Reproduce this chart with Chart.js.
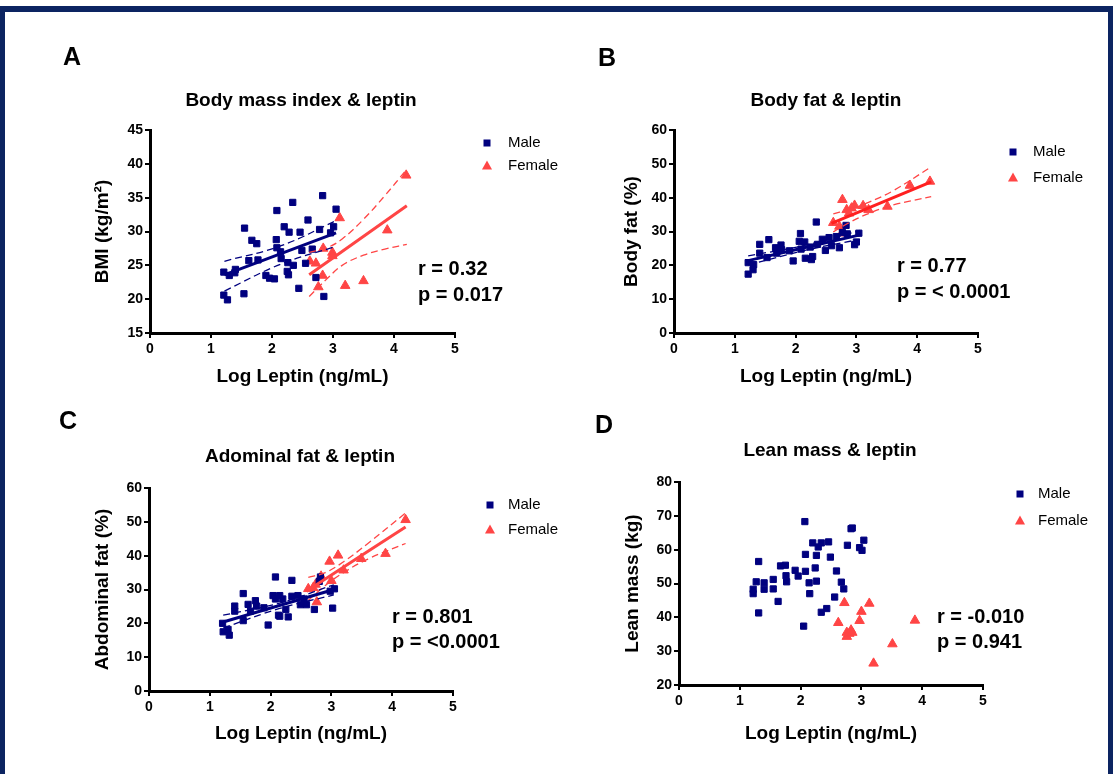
<!DOCTYPE html>
<html lang="en">
<head>
<meta charset="utf-8">
<script src="https://cdn.jsdelivr.net/npm/chart.js"></script>
<style>
  body { margin: 0; background: #fff; width: 1113px; height: 774px; overflow: hidden; }
  #frame {
    position: absolute; left: 0; top: 6px; width: 1113px; height: 768px;
    box-sizing: border-box; border: 6px solid #0c2461; border-bottom: none; border-left-width: 5px; border-right-width: 5px;
  }
  canvas { position: absolute; }
</style>
</head>
<body>
<div id="frame"></div>

<script>
// ---------- data ----------
var xTicks = [0, 1, 2, 3, 4, 5];

// A : body mass index
var bmiMaleX = [1.21, 1.21, 1.27, 1.30, 1.39, 1.40, 1.54, 1.55, 1.62, 1.67, 1.75, 1.77, 1.90, 1.96, 2.04, 2.08, 2.07, 2.08, 2.14, 2.15,
                2.20, 2.26, 2.25, 2.27, 2.28, 2.34, 2.35, 2.44, 2.46, 2.49, 2.55, 2.59, 2.66, 2.72, 2.78, 2.83, 2.85, 2.96, 3.01, 3.05];
var bmiMaleY = [24.0, 20.6, 19.9, 23.5, 23.9, 24.4, 20.8, 30.5, 25.7, 28.7, 28.2, 25.8, 23.5, 23.1, 23.0, 33.1, 28.8, 27.6, 27.0, 26.0,
                30.7, 25.4, 24.1, 23.6, 29.9, 34.3, 25.0, 21.6, 29.9, 27.2, 25.3, 31.7, 27.4, 23.2, 30.3, 35.3, 20.4, 29.8, 30.7, 33.3];
var bmiFemaleX = [2.62, 2.72, 2.76, 2.84, 2.83, 2.99, 2.99, 3.11, 3.20, 3.50, 3.89, 4.20];
var bmiFemaleY = [25.6, 25.3, 21.8, 27.5, 23.5, 26.9, 26.4, 32.0, 22.0, 22.7, 30.2, 38.3];
var bmiMaleFitX = [1.22, 3.05],  bmiMaleFitY = [23.6, 29.8];
var bmiMaleBandX = [1.22, 2.15, 3.05];
var bmiMaleBandHi = [25.6, 27.9, 31.6], bmiMaleBandLo = [21.2, 25.2, 27.8];
var bmiFemaleFitX = [2.61, 4.21], bmiFemaleFitY = [23.6, 33.8];
var bmiFemaleBandX = [2.61, 2.9, 3.15, 3.5, 3.85, 4.21];
var bmiFemaleBandHi = [26.9, 27.6, 28.9, 31.8, 35.3, 39.2], bmiFemaleBandLo = [20.4, 23.0, 25.0, 26.5, 27.4, 28.1];

// B : body fat
var fatMaleX = [1.22, 1.22, 1.30, 1.31, 1.41, 1.41, 1.56, 1.53, 1.67, 1.69, 1.76, 1.77, 1.90, 1.96, 2.06, 2.08, 2.09, 2.15, 2.16, 2.24,
                2.26, 2.28, 2.34, 2.36, 2.44, 2.49, 2.55, 2.59, 2.67, 2.72, 2.77, 2.83, 2.85, 2.97, 3.00, 3.04];
var fatMaleY = [20.8, 17.4, 18.7, 20.2, 26.2, 23.6, 27.6, 22.3, 25.2, 23.6, 26.0, 24.6, 24.3, 21.3, 27.1, 29.4, 24.8, 26.9, 22.1, 25.4,
                21.7, 22.6, 32.8, 26.2, 27.7, 24.4, 28.2, 25.8, 28.5, 25.2, 29.7, 31.8, 29.3, 26.1, 26.9, 29.5];
var fatFemaleX = [2.62, 2.72, 2.76, 2.77, 2.84, 2.88, 2.92, 2.97, 3.11, 3.20, 3.51, 3.88, 4.21];
var fatFemaleY = [32.6, 31.5, 29.5, 39.4, 36.4, 35.4, 36.9, 37.7, 37.6, 36.4, 37.4, 43.6, 44.8];
var fatMaleFitX = [1.22, 3.06],  fatMaleFitY = [21.4, 29.0];
var fatMaleBandX = [1.22, 2.15, 3.06];
var fatMaleBandHi = [22.8, 25.9, 30.3], fatMaleBandLo = [20.1, 24.4, 27.7];
var fatFemaleFitX = [2.59, 4.23], fatFemaleFitY = [32.4, 44.7];
var fatFemaleBandX = [2.62, 2.9, 3.2, 3.6, 4.23];
var fatFemaleBandHi = [35.2, 36.6, 38.6, 42.0, 49.1], fatFemaleBandLo = [29.9, 32.8, 35.3, 37.8, 40.3];

// C : abdominal fat
var abdMaleX = [1.21, 1.22, 1.30, 1.32, 1.41, 1.41, 1.55, 1.55, 1.63, 1.67, 1.75, 1.77, 1.89, 1.96, 2.04, 2.08, 2.08, 2.13, 2.15, 2.15,
                2.20, 2.25, 2.29, 2.35, 2.35, 2.45, 2.49, 2.55, 2.59, 2.72, 2.80, 2.82, 2.98, 3.02, 3.05];
var abdMaleY = [20.0, 17.5, 18.2, 16.5, 25.1, 23.6, 28.8, 20.8, 25.6, 23.6, 26.7, 25.1, 24.6, 19.5, 28.2, 33.7, 27.2, 22.4, 28.2, 22.1,
                27.2, 24.1, 21.9, 32.7, 28.0, 28.2, 25.5, 27.2, 25.5, 24.1, 32.4, 33.7, 29.5, 24.5, 30.2];
var abdFemaleX = [2.62, 2.70, 2.74, 2.76, 2.83, 2.97, 3.00, 3.11, 3.20, 3.49, 3.89, 4.22];
var abdFemaleY = [30.2, 30.5, 31.5, 26.3, 33.9, 38.3, 32.6, 40.1, 35.7, 39.1, 40.6, 50.6];
var abdMaleFitX = [1.22, 3.04],  abdMaleFitY = [20.4, 30.0];
var abdMaleBandX = [1.22, 2.15, 3.04];
var abdMaleBandHi = [22.4, 26.0, 31.4], abdMaleBandLo = [18.6, 24.4, 28.4];
var abdFemaleFitX = [2.59, 4.22], abdFemaleFitY = [29.5, 48.5];
var abdFemaleBandX = [2.62, 2.9, 3.2, 3.6, 4.22];
var abdFemaleBandHi = [33.6, 35.0, 38.2, 43.6, 52.6], abdFemaleBandLo = [26.8, 31.2, 35.0, 39.0, 43.6];

// D : lean mass (no fit shown)
var leanMaleX = [1.22, 1.22, 1.27, 1.31, 1.31, 1.40, 1.40, 1.55, 1.55, 1.63, 1.67, 1.75, 1.76, 1.77, 1.91, 1.96, 2.05, 2.07, 2.08, 2.08,
                 2.14, 2.15, 2.20, 2.24, 2.26, 2.26, 2.29, 2.34, 2.34, 2.43, 2.46, 2.49, 2.56, 2.59, 2.67, 2.71, 2.77, 2.83, 2.85, 2.97,
                 3.01, 3.04];
var leanMaleY = [48.3, 47.0, 50.5, 56.5, 41.3, 50.2, 48.3, 51.2, 48.4, 44.7, 55.2, 55.4, 52.3, 50.5, 53.9, 52.2, 37.4, 68.3, 58.6, 53.6,
                 50.2, 47.0, 62.0, 54.6, 58.3, 50.7, 60.8, 62.0, 41.5, 42.6, 62.3, 57.8, 46.0, 53.7, 50.4, 48.4, 61.3, 66.2, 66.4, 60.6,
                 59.8, 62.8];
var leanFemaleX = [2.62, 2.72, 2.76, 2.76, 2.80, 2.83, 2.85, 2.97, 3.00, 3.13, 3.20, 3.51, 3.88];
var leanFemaleY = [38.4, 44.3, 35.5, 34.3, 35.2, 36.2, 35.5, 39.0, 41.7, 44.1, 26.4, 32.1, 39.1];

// ---------- styling ----------
var NAVY = '#00007f';
var RED = '#ff4545';
var FONT = '"Liberation Sans", Arial, sans-serif';

function pts(xs, ys) {
  return xs.map(function (x, i) { return { x: x, y: ys[i] }; });
}

function scatterSet(xs, ys, female) {
  return {
    data: pts(xs, ys), order: 2,
    pointStyle: female ? 'triangle' : 'rect',
    pointRadius: female ? 5.5 : 4.4,
    pointBorderWidth: 1,
    backgroundColor: female ? RED : NAVY,
    borderColor: female ? RED : NAVY
  };
}
function lineSet(xs, ys, color, dashed) {
  return {
    data: pts(xs, ys), order: dashed ? 1 : 0,
    showLine: true, pointRadius: 0, tension: 0.4,
    borderColor: color, borderWidth: dashed ? 1.3 : 3,
    borderDash: dashed ? [7, 4] : []
  };
}

// draws panel letter, title, little legend and the r / p note
var decorPlugin = {
  id: 'decor',
  afterDraw: function (chart, args, o) {
    var ctx = chart.ctx, ox = o.ox, oy = o.oy;
    ctx.save();
    ctx.fillStyle = '#000';
    ctx.textBaseline = 'alphabetic';

    ctx.font = 'bold 25px ' + FONT;
    ctx.textAlign = 'center';
    ctx.fillText(o.letter, o.letterAt[0] - ox, o.letterAt[1] - oy);

    ctx.font = 'bold 19px ' + FONT;
    ctx.fillText(o.title, o.titleAt[0] - ox, o.titleAt[1] - oy);

    // legend
    var lx = o.legend[0] - ox, ly1 = o.legend[1] - oy, ly2 = o.legend[2] - oy, tx = o.legend[3] - ox;
    ctx.fillStyle = NAVY;
    ctx.fillRect(lx - 3.5, ly1 - 3.5, 7, 7);
    ctx.fillStyle = RED;
    ctx.beginPath();
    ctx.moveTo(lx, ly2 - 5.5);
    ctx.lineTo(lx + 5, ly2 + 3.5);
    ctx.lineTo(lx - 5, ly2 + 3.5);
    ctx.closePath();
    ctx.fill();
    ctx.fillStyle = '#000';
    ctx.font = '15px ' + FONT;
    ctx.textAlign = 'left';
    ctx.textBaseline = 'middle';
    ctx.fillText('Male', tx, ly1);
    ctx.fillText('Female', tx, ly2);

    ctx.textBaseline = 'alphabetic';
    ctx.font = 'bold 20px ' + FONT;
    ctx.fillText(o.stats[0], o.statsAt[0] - ox, o.statsAt[1] - oy);
    ctx.fillText(o.stats[1], o.statsAt[0] - ox, o.statsAt[2] - oy);
    ctx.restore();
  }
};

function makePanel(p) {
  var c = document.createElement('canvas');
  c.width = p.box[2];
  c.height = p.box[3];
  c.style.left = p.box[0] + 'px';
  c.style.top = p.box[1] + 'px';
  document.body.appendChild(c);

  var yAxisW = p.plot[0] - p.box[0];
  var xAxisH = p.box[1] + p.box[3] - p.plot[3];
  var padTop = p.plot[1] - p.box[1];
  var padRight = p.box[0] + p.box[2] - p.plot[2];
  var tickFont = { family: FONT, size: 14, weight: 'bold' };
  var titleFont = { family: FONT, size: 19, weight: 'bold' };
  var half = 19 * 1.2 / 2;

  p.decor.ox = p.box[0];
  p.decor.oy = p.box[1];

  new Chart(c, {
    type: 'scatter',
    data: { datasets: p.datasets },
    options: {
      responsive: false,
      animation: false,
      layout: { padding: { left: 0, top: padTop, right: padRight, bottom: 0 } },
      plugins: { legend: { display: false }, tooltip: { enabled: false }, decor: p.decor },
      scales: {
        x: {
          type: 'linear', min: xTicks[0], max: xTicks[xTicks.length - 1],
          afterBuildTicks: function (s) { s.ticks = xTicks.map(function (v) { return { value: v }; }); },
          ticks: { color: '#000', font: tickFont, padding: 3 },
          grid: { drawOnChartArea: false, color: '#000', lineWidth: 2, tickLength: 5 },
          border: { color: '#000', width: 3 },
          title: { display: true, text: 'Log Leptin (ng/mL)', color: '#000', font: titleFont,
                   padding: { top: 0, bottom: p.box[1] + p.box[3] - p.xTitleY - half } },
          afterFit: function (s) { s.height = xAxisH; }
        },
        y: {
          type: 'linear', min: p.yMin, max: p.yMax,
          ticks: { stepSize: p.yStep, color: '#000', font: tickFont, padding: 2 },
          grid: { drawOnChartArea: false, color: '#000', lineWidth: 2, tickLength: 5 },
          border: { color: '#000', width: 3 },
          title: { display: true, text: p.yTitle, color: '#000', font: titleFont,
                   padding: { top: p.yTitleX - p.box[0] - half, bottom: 0 } },
          afterFit: function (s) { s.width = yAxisW; }
        }
      }
    },
    plugins: [decorPlugin]
  });
}

makePanel({
  box: [0, 0, 600, 387], plot: [150, 130, 455, 333],
  yMin: 15, yMax: 45, yStep: 5, yTitle: 'BMI (kg/m²)', yTitleX: 103, xTitleY: 377,
  datasets: [
    lineSet(bmiMaleFitX, bmiMaleFitY, NAVY, false),
    lineSet(bmiMaleBandX, bmiMaleBandHi, NAVY, true),
    lineSet(bmiMaleBandX, bmiMaleBandLo, NAVY, true),
    lineSet(bmiFemaleFitX, bmiFemaleFitY, RED, false),
    lineSet(bmiFemaleBandX, bmiFemaleBandHi, RED, true),
    lineSet(bmiFemaleBandX, bmiFemaleBandLo, RED, true),
    scatterSet(bmiMaleX, bmiMaleY, false),
    scatterSet(bmiFemaleX, bmiFemaleY, true)
  ],
  decor: { letter: 'A', letterAt: [72, 65], title: 'Body mass index & leptin', titleAt: [301, 106],
           legend: [487, 143, 166, 508], stats: ['r = 0.32', 'p = 0.017'], statsAt: [418, 275, 301] }
});

makePanel({
  box: [557, 0, 556, 387], plot: [674, 130, 978, 333],
  yMin: 0, yMax: 60, yStep: 10, yTitle: 'Body fat (%)', yTitleX: 632, xTitleY: 377,
  datasets: [
    lineSet(fatMaleFitX, fatMaleFitY, NAVY, false),
    lineSet(fatMaleBandX, fatMaleBandHi, NAVY, true),
    lineSet(fatMaleBandX, fatMaleBandLo, NAVY, true),
    lineSet(fatFemaleFitX, fatFemaleFitY, '#ff2020', false),
    lineSet(fatFemaleBandX, fatFemaleBandHi, RED, true),
    lineSet(fatFemaleBandX, fatFemaleBandLo, RED, true),
    scatterSet(fatMaleX, fatMaleY, false),
    scatterSet(fatFemaleX, fatFemaleY, true)
  ],
  decor: { letter: 'B', letterAt: [607, 66], title: 'Body fat & leptin', titleAt: [826, 106],
           legend: [1013, 152, 178, 1033], stats: ['r = 0.77', 'p = < 0.0001'], statsAt: [897, 272, 298] }
});

makePanel({
  box: [0, 387, 600, 387], plot: [149, 488, 453, 691],
  yMin: 0, yMax: 60, yStep: 10, yTitle: 'Abdominal fat (%)', yTitleX: 102.5, xTitleY: 734,
  datasets: [
    lineSet(abdMaleFitX, abdMaleFitY, NAVY, false),
    lineSet(abdMaleBandX, abdMaleBandHi, NAVY, true),
    lineSet(abdMaleBandX, abdMaleBandLo, NAVY, true),
    lineSet(abdFemaleFitX, abdFemaleFitY, RED, false),
    lineSet(abdFemaleBandX, abdFemaleBandHi, RED, true),
    lineSet(abdFemaleBandX, abdFemaleBandLo, RED, true),
    scatterSet(abdMaleX, abdMaleY, false),
    scatterSet(abdFemaleX, abdFemaleY, true)
  ],
  decor: { letter: 'C', letterAt: [68, 429], title: 'Adominal fat & leptin', titleAt: [300, 462],
           legend: [490, 505, 530, 508], stats: ['r = 0.801', 'p = <0.0001'], statsAt: [392, 623, 648] }
});

makePanel({
  box: [557, 387, 556, 387], plot: [679, 482, 983, 685],
  yMin: 20, yMax: 80, yStep: 10, yTitle: 'Lean mass (kg)', yTitleX: 632.5, xTitleY: 734,
  datasets: [
    scatterSet(leanMaleX, leanMaleY, false),
    scatterSet(leanFemaleX, leanFemaleY, true)
  ],
  decor: { letter: 'D', letterAt: [604, 433], title: 'Lean mass & leptin', titleAt: [830, 456],
           legend: [1020, 494, 521, 1038], stats: ['r = -0.010', 'p = 0.941'], statsAt: [937, 623, 648] }
});
</script>
</body>
</html>
